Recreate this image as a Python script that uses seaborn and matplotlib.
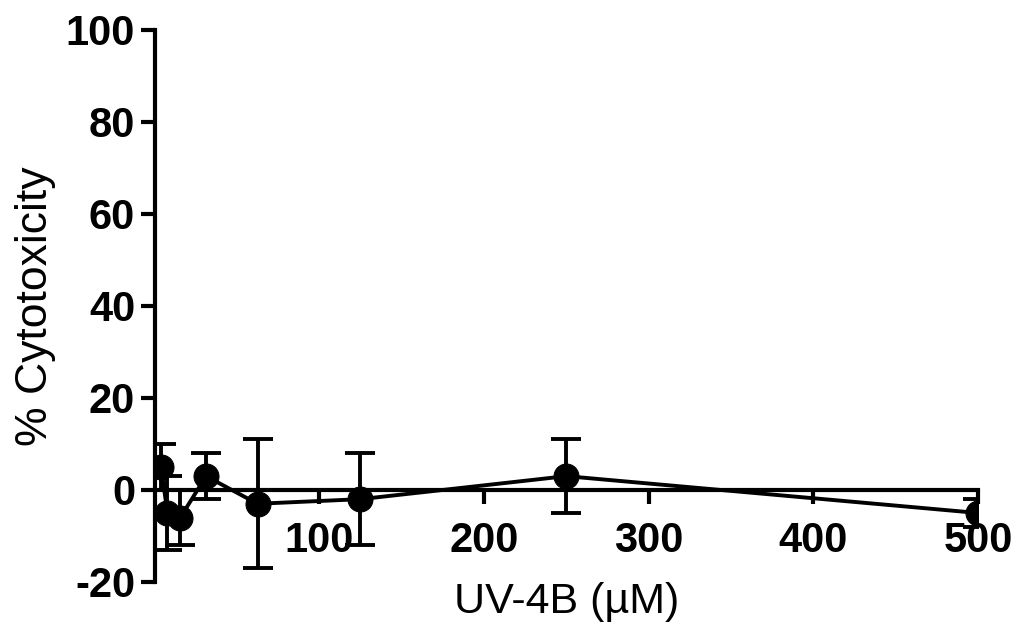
import matplotlib
matplotlib.use("Agg")
import matplotlib.pyplot as plt
import seaborn as sns
import pandas as pd

# UV-4B concentration (uM) and % cytotoxicity (mean, sd)
conc = [3.9, 7.8, 15.6, 31.25, 62.5, 125, 250, 500]
cyto = [5, -5, -6, 3, -3, -2, 3, -5]
err = [5, 8, 6, 5, 14, 10, 8, 3]

x_ticks = [100, 200, 300, 400, 500]
y_ticks = [-20, 0, 20, 40, 60, 80, 100]

sns.set_style("ticks")
plt.rcParams['font.family'] = ['Liberation Sans', 'DejaVu Sans']
plt.rcParams['axes.unicode_minus'] = False
plt.rcParams['text.color'] = 'black'
plt.rcParams['xtick.color'] = 'black'
plt.rcParams['ytick.color'] = 'black'
plt.rcParams['axes.labelcolor'] = 'black'

df = pd.DataFrame({"conc": conc, "cyto": cyto})

fig = plt.figure(figsize=(10.24, 6.35), dpi=100)
ax = fig.add_axes([0.151, 0.0835, 0.804, 0.8695])

ax.errorbar(conc, cyto, yerr=err, fmt="none", ecolor="black",
            elinewidth=2.8, capsize=11, capthick=2.8, zorder=2)
sns.lineplot(data=df, x="conc", y="cyto", color="black", linewidth=2.8,
             marker="o", markersize=18, markeredgecolor="black", ax=ax, zorder=3)

ax.set_xlim(0, 500)
ax.set_ylim(-20, 100)
ax.set_xticks(x_ticks)
ax.set_yticks(y_ticks)

# bottom spine sits at y = 0
ax.spines["bottom"].set_position(("data", 0))
ax.spines["top"].set_visible(False)
ax.spines["right"].set_visible(False)
for s in ["left", "bottom"]:
    ax.spines[s].set_linewidth(3)
    ax.spines[s].set_color("black")

ax.tick_params(axis="y", length=10, width=3, labelsize=30, pad=4)
ax.tick_params(axis="x", length=10, width=3, labelsize=30, pad=12)
for lab in ax.get_xticklabels() + ax.get_yticklabels():
    lab.set_fontweight("bold")

ax.set_ylabel("% Cytotoxicity", fontsize=32)
ax.yaxis.set_label_coords(-0.12, 0.5)
ax.set_xlabel("UV-4B (\u00b5M)", fontsize=31)
ax.xaxis.set_label_coords(0.5, 0.0)

plt.savefig("out.png", dpi=100)
